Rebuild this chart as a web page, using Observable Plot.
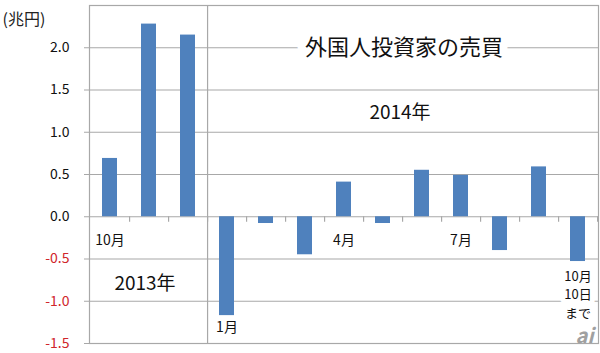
<!DOCTYPE html>
<html>
<head>
<meta charset="utf-8">
<script src="https://cdn.jsdelivr.net/npm/d3@7"></script>
<script src="https://cdn.jsdelivr.net/npm/@observablehq/plot@0.6"></script>
<style>
  body { margin: 0; background: #fff; }
  svg { font-family: "Noto Sans CJK JP", "Noto Sans", sans-serif; }
</style>
</head>
<body>
<div id="chart"></div>
<script>
const categories = ["2013-10","2013-11","2013-12","2014-01","2014-02","2014-03","2014-04","2014-05","2014-06","2014-07","2014-08","2014-09","2014-10"];
const values = [0.69, 2.28, 2.15, -1.17, -0.08, -0.45, 0.41, -0.08, 0.55, 0.49, -0.40, 0.59, -0.53];
const yTicks = [-1.5, -1.0, -0.5, 0.0, 0.5, 1.0, 1.5, 2.0];
const gridValues = [-1.0, -0.5, 0.0, 0.5, 1.0, 1.5, 2.0];
const monthLabels = [
  {cat: "2013-10", text: "10月"},
  {cat: "2014-04", text: "4月"},
  {cat: "2014-07", text: "7月"}
];
const unitLabel = "(兆円)";
const title = "外国人投資家の売買";
const year2013 = "2013年";
const year2014 = "2014年";
const janLabel = "1月";
const lastLabel = "10月\n10日\nまで";

const data = categories.map((c, i) => ({cat: c, value: values[i]}));
const grid = "#a8a8a8";
const half = 509 / 13 / 2;

const chart = Plot.plot({
  width: 600,
  height: 353,
  marginTop: 5,
  marginBottom: 10,
  marginLeft: 89,
  marginRight: 2,
  style: {background: "#fff", fontFamily: "\"Noto Sans CJK JP\", sans-serif"},
  x: {domain: categories, paddingInner: 0.62, paddingOuter: 0.31, axis: null},
  y: {domain: [-1.5, 2.5], axis: null},
  marks: [
    Plot.ruleY(gridValues, {y: d => d, stroke: grid, strokeWidth: 1.2, insetLeft: -5}),
    Plot.ruleY([-1.5], {y: d => d, stroke: grid, strokeWidth: 1.2, insetLeft: -5}),
    Plot.frame({stroke: grid, strokeWidth: 1.2}),
    Plot.ruleX(["2013-12"], {x: d => d, stroke: grid, strokeWidth: 1.2, dx: half}),
    Plot.ruleX(categories, {x: d => d, y1: 0, y2: -0.065, stroke: grid, strokeWidth: 1.2, dx: half}),
    Plot.text([lastLabel], {x: () => "2014-10", y: () => -0.91, text: d => d, fontSize: 13, lineHeight: 1.4, fill: "#111", stroke: "#fff", strokeWidth: 10}),
    Plot.barY(data, {x: "cat", y: "value", fill: "#4f81bd"}),
    Plot.text([title], {x: () => "2014-05", y: () => 2.0, text: d => d, dx: 21, fontSize: 22, fill: "#111", stroke: "#fff", strokeWidth: 16}),
    Plot.text([year2014], {x: () => "2014-05", y: () => 1.23, text: d => d, dx: 17, fontSize: 19, fill: "#111"}),
    Plot.text([year2013], {x: () => "2013-11", y: () => -0.79, text: d => d, dx: -4, fontSize: 19, fill: "#111"}),
    Plot.text(monthLabels, {x: "cat", y: () => -0.28, text: "text", fontSize: 14, fill: "#111"}),
    Plot.text([janLabel], {x: () => "2014-01", y: () => -1.31, text: d => d, fontSize: 14, fill: "#111"}),
    Plot.text(yTicks, {y: d => d, text: d => d.toFixed(1), frameAnchor: "left", textAnchor: "end", dx: -20, fontSize: 14, fill: d => d < 0 ? "#d0262b" : "#111"}),
    Plot.text([unitLabel], {frameAnchor: "top-left", text: d => d, textAnchor: "start", dx: -87, dy: 8, fontSize: 16, fill: "#222"}),
    Plot.text(["ai"], {frameAnchor: "bottom-right", text: d => d, textAnchor: "end", dx: -5, dy: -1, fontSize: 20, fontStyle: "italic", fontWeight: "bold", fill: "#a0a0a0"})
  ]
});
document.getElementById("chart").appendChild(chart);
</script>
</body>
</html>
